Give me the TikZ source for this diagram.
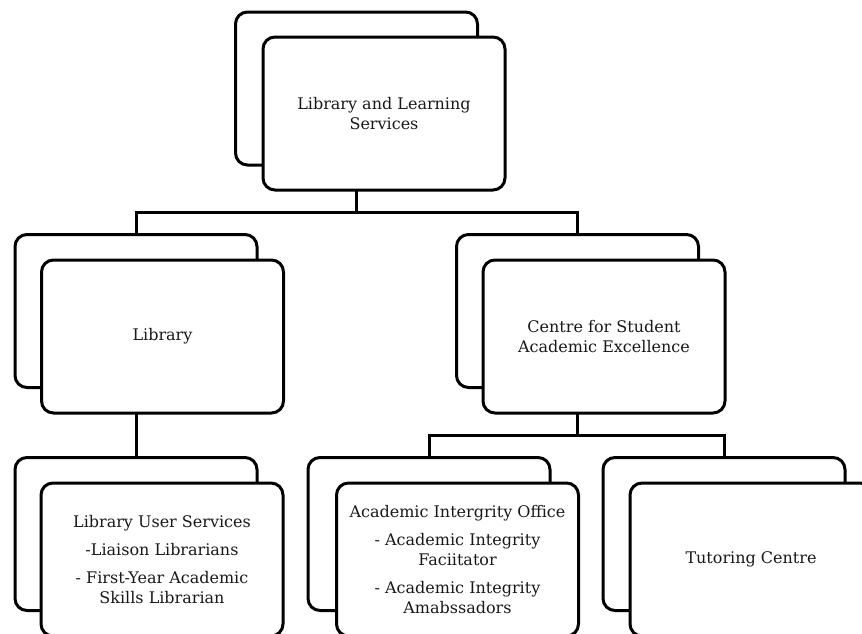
\documentclass[tikz,border=0pt]{standalone}
\usepackage{fontspec}
\setmainfont{DejaVu Serif}
\begin{document}
\begin{tikzpicture}[x=1pt,y=-1pt,
  box/.style={draw=black, line width=3pt, rounded corners=12pt, fill=white,
    minimum width=242pt, minimum height=153pt, inner sep=0pt, outer sep=0pt,
    align=center, text=black!90, font=\fontsize{16}{20}\selectfont},
  conn/.style={draw=black, line width=3pt}]
\useasboundingbox (0,0) rectangle (862,633);
\clip (0,0) rectangle (862,633);
% back boxes
\node[box] (topB) at (356.5,88.5) {};
\node[box] (libB) at (136,311) {};
\node[box] (cseB) at (577.5,311) {};
\node[box] (lusB) at (136,534) {};
\node[box] (aioB) at (429,534) {};
\node[box] (tutB) at (724,534) {};
% front boxes
\node[box] (topF) at (384,113.5) {Library and Learning\\Services};
\node[box] (libF) at (162.5,336.5) {Library};
\node[box] (cseF) at (604,336.5) {Centre for Student\\Academic Excellence};
\node[box] (lusF) at (162,559.5) {Library User Services\\[8pt]-Liaison Librarians\\[8pt]- First-Year Academic\\Skills Librarian};
\node[box] (aioF) at (457.5,559.5) {Academic Intergrity Office\\[8pt]- Academic Integrity\\Faciitator\\[8pt]- Academic Integrity\\Amabssadors};
\node[box] (tutF) at (751,559.5) {Tutoring Centre};
% bus coordinates
\coordinate (bus1) at (0,212);
\coordinate (bus2) at (0,435);
% connectors
\draw[conn] (topB.center |- topF.south) -- (topB.center |- bus1);
\draw[conn] (libB.north) -- (libB.north |- bus1) -- (cseB.north |- bus1) -- (cseB.north);
\draw[conn] (libB.center |- libF.south) -- (lusB.north);
\draw[conn] (cseB.center |- cseF.south) -- (cseB.center |- bus2);
\draw[conn] (aioB.north) -- (aioB.north |- bus2) -- (tutB.north |- bus2) -- (tutB.north);
\end{tikzpicture}
\end{document}
